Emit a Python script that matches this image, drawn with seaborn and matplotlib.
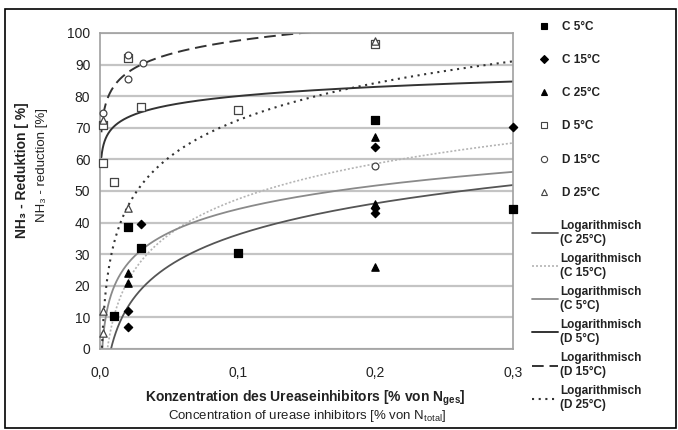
import numpy as np
import pandas as pd
import matplotlib
matplotlib.use("Agg")
import matplotlib.pyplot as plt
import seaborn as sns
from matplotlib.lines import Line2D
from matplotlib.patches import Rectangle

sns.set_style("white")
plt.rcParams['font.family'] = ['Liberation Sans', 'DejaVu Sans']
plt.rcParams['mathtext.fontset'] = 'custom'
plt.rcParams['mathtext.rm'] = 'Liberation Sans'
plt.rcParams['mathtext.bf'] = 'Liberation Sans:bold'

# ---- data ----
c5_x = [0.01, 0.02, 0.03, 0.1, 0.2, 0.3]
c5_y = [10.5, 38.5, 32.0, 30.3, 72.5, 44.2]
c15_x = [0.02, 0.02, 0.03, 0.2, 0.2, 0.2, 0.3]
c15_y = [12.0, 7.0, 39.6, 64.0, 44.5, 43.0, 70.3]
c25_x = [0.02, 0.02, 0.2, 0.2, 0.2]
c25_y = [24.0, 21.0, 67.0, 46.0, 26.0]
d5_x = [0.002, 0.002, 0.01, 0.02, 0.03, 0.1, 0.2]
d5_y = [59.0, 71.0, 53.0, 92.0, 76.5, 75.6, 96.5]
d15_x = [0.002, 0.02, 0.02, 0.031, 0.2]
d15_y = [74.6, 85.6, 93.0, 90.4, 58.0]
d25_x = [0.002, 0.002, 0.02, 0.2, 0.002]
d25_y = [5.0, 12.0, 44.5, 97.5, 72.5]

# logarithmic trendlines y = a*ln(x) + b (coefficients)
trend_names = ["C 25°C", "C 15°C", "C 5°C", "D 5°C", "D 15°C", "D 25°C"]
trend_a = [14.3, 16.2, 10.75, 4.2, 6.3, 17.0]
trend_b = [69.1, 84.7, 69.0, 89.7, 112.1, 111.5]

x_ticks = [0.0, 0.1, 0.2, 0.3]
x_tick_labels = ["0,0", "0,1", "0,2", "0,3"]
y_ticks = [0, 10, 20, 30, 40, 50, 60, 70, 80, 90, 100]

W, H = 678, 430
fig = plt.figure(figsize=(W / 100, H / 100), dpi=100)
ax = fig.add_axes([100 / W, 1 - 349 / H, 413 / W, 316 / H])

# grid
for yv in y_ticks:
    ax.axhline(yv, color="#c4c4c4", lw=1.6, zorder=0)

# trendlines
styles = [
    dict(color="#555555", lw=1.3, ls="-"),
    dict(color="#b4b4b4", lw=1.2, ls=(0, (1.2, 1.2))),
    dict(color="#8a8a8a", lw=1.3, ls="-"),
    dict(color="#333333", lw=1.4, ls="-"),
    dict(color="#333333", lw=1.4, ls=(0, (6, 3))),
    dict(color="#333333", lw=1.5, ls=(0, (1.0, 2.2))),
]
xs = np.geomspace(0.001, 0.3, 400)
for name, a, b, st in zip(trend_names, trend_a, trend_b, styles):
    df = pd.DataFrame({"x": xs, "y": a * np.log(xs) + b})
    sns.lineplot(data=df, x="x", y="y", ax=ax, color=st["color"], lw=st["lw"],
                 linestyle=st["ls"], zorder=2)

# points
marker_specs = [
    (c5_x, c5_y, "s", "black", "black", 26),
    (c15_x, c15_y, "D", "black", "black", 18),
    (c25_x, c25_y, "^", "black", "black", 28),
    (d5_x, d5_y, "s", "white", "#444444", 26),
    (d15_x, d15_y, "o", "white", "#444444", 24),
    (d25_x, d25_y, "^", "white", "#444444", 28),
]
for xv, yv, m, fc, ec, s in marker_specs:
    sns.scatterplot(x=xv, y=yv, ax=ax, marker=m, color=fc, edgecolor=ec,
                    linewidth=0.9, s=s, zorder=3, clip_on=False, legend=False)

ax.set_xlim(0, 0.3)
ax.set_ylim(0, 100)
ax.set_xticks(x_ticks)
ax.set_xticklabels(x_tick_labels)
ax.set_yticks(y_ticks)
ax.set_xlabel("")
ax.set_ylabel("")
for side in ["left", "bottom", "right", "top"]:
    ax.spines[side].set_color("#a0a0a0")
    ax.spines[side].set_linewidth(1.2)
ax.tick_params(axis="both", which="both", direction="out", length=4, width=1,
               color="#808080", labelsize=10, labelcolor="#222222", pad=3)
ax.tick_params(axis="x", pad=8)

# axis titles
fig.text(22 / W, 1 - 170 / H, "NH₃ - Reduktion [ %]", rotation=90, ha="center",
         va="center", fontsize=10, fontweight="bold", color="#222222")
fig.text(42 / W, 1 - 165 / H, "NH₃ - reduction [%]", rotation=90, ha="center",
         va="center", fontsize=9.5, color="#222222")
fig.text(305 / W, 1 - 398 / H, r"Konzentration des Ureaseinhibitors [% von N$_\mathbf{ges}$]",
         ha="center", va="center", fontsize=10, fontweight="bold", color="#222222")
fig.text(307 / W, 1 - 416 / H, r"Concentration of urease inhibitors [% von N$_\mathregular{total}$]",
         ha="center", va="center", fontsize=9.5, color="#222222")

# legends
pt_labels = ["C 5°C", "C 15°C", "C 25°C", "D 5°C", "D 15°C", "D 25°C"]
h1 = [Line2D([], [], ls="none", marker=m, markerfacecolor=fc, markeredgecolor=ec,
             markersize=4.5, markeredgewidth=0.8) for (_, _, m, fc, ec, _) in marker_specs]
leg1 = fig.legend(h1, pt_labels, loc="upper left", bbox_to_anchor=(532 / W, 1 - 16 / H),
                  frameon=False, prop=dict(size=8.5, weight="bold"), labelspacing=1.8,
                  handlelength=1.2, handletextpad=0.9, borderaxespad=0)
h2 = [Line2D([], [], **st) for st in styles]
line_labels = ["Logarithmisch\n(" + n + ")" for n in trend_names]
leg2 = fig.legend(h2, line_labels, loc="upper left", bbox_to_anchor=(527 / W, 1 - 215 / H),
                  frameon=False, prop=dict(size=8.5, weight="bold"), labelspacing=0.62,
                  handlelength=2.2, handletextpad=0.2, borderaxespad=0)
for leg in (leg1, leg2):
    for t in leg.get_texts():
        t.set_color("#222222")

fig.add_artist(Rectangle((5 / W, 2 / H), 671 / W, 419 / H, transform=fig.transFigure,
                         fill=False, lw=1.2, ec="black"))

fig.savefig("out.png", dpi=100)
